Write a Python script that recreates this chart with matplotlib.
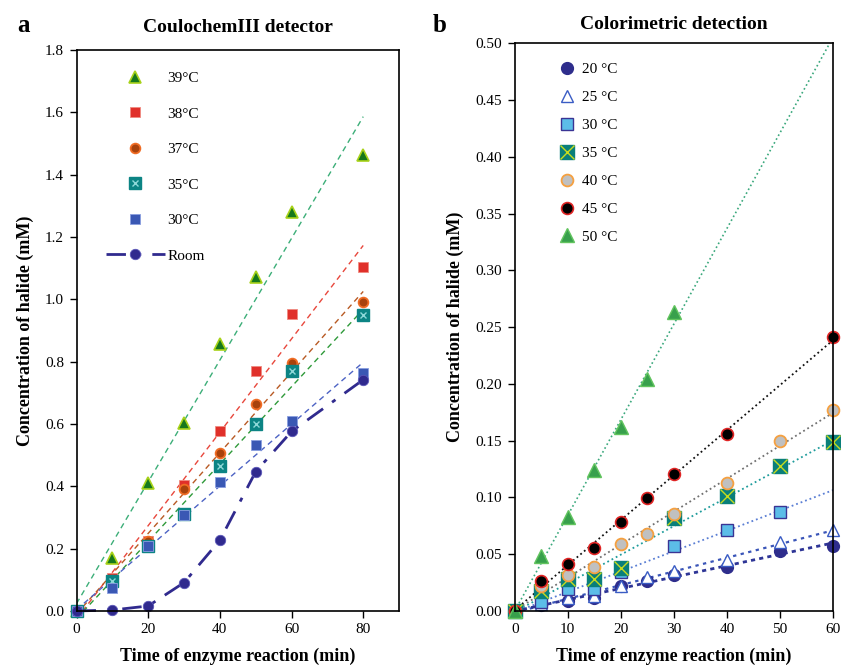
import matplotlib
matplotlib.use("Agg")
import matplotlib.pyplot as plt
from matplotlib.legend_handler import HandlerTuple
import numpy as np

plt.rcParams["font.family"] = ["Liberation Serif", "DejaVu Serif"]

# panel a: CoulochemIII detector
t_a = [0, 10, 20, 30, 40, 50, 60, 80]
a_39 = [0, 0.170, 0.410, 0.603, 0.857, 1.073, 1.279, 1.462]
a_38 = [0, 0.105, 0.225, 0.404, 0.578, 0.771, 0.953, 1.103]
a_37 = [0, 0.100, 0.225, 0.392, 0.508, 0.663, 0.795, 0.991]
a_35 = [0, 0.096, 0.210, 0.310, 0.466, 0.599, 0.769, 0.949]
a_30 = [0, 0.073, 0.210, 0.308, 0.415, 0.531, 0.611, 0.763]
a_room = [0, 0.003, 0.016, 0.091, 0.227, 0.447, 0.576, 0.742]
a_labels = ["39\u00b0C", "38\u00b0C", "37\u00b0C", "35\u00b0C", "30\u00b0C", "Room"]

# panel b: colorimetric detection
t_20 = [0, 5, 10, 15, 20, 25, 30, 40, 50, 60]
b_20 = [0, 0.005, 0.009, 0.0115, 0.022, 0.026, 0.0315, 0.039, 0.053, 0.057]
t_25 = [0, 5, 10, 15, 20, 25, 30, 40, 50, 60]
b_25 = [0, 0.006, 0.011, 0.013, 0.022, 0.030, 0.035, 0.045, 0.061, 0.071]
t_30 = [0, 5, 10, 15, 20, 30, 40, 50]
b_30 = [0, 0.008, 0.019, 0.0197, 0.034, 0.057, 0.071, 0.0873]
t_35 = [0, 5, 10, 15, 20, 30, 40, 50, 60]
b_35 = [0, 0.0176, 0.0286, 0.0286, 0.038, 0.082, 0.101, 0.128, 0.1485]
t_40 = [0, 5, 10, 15, 20, 25, 30, 40, 50, 60]
b_40 = [0, 0.022, 0.032, 0.039, 0.0586, 0.068, 0.0853, 0.113, 0.1496, 0.177]
t_45 = [0, 5, 10, 15, 20, 25, 30, 40, 60]
b_45 = [0, 0.0265, 0.041, 0.0556, 0.078, 0.0997, 0.121, 0.1555, 0.2416]
t_50 = [0, 5, 10, 15, 20, 25, 30]
b_50 = [0, 0.0485, 0.083, 0.124, 0.162, 0.204, 0.263]
b_labels = ["20 \u00b0C", "25 \u00b0C", "30 \u00b0C", "35 \u00b0C", "40 \u00b0C", "45 \u00b0C", "50 \u00b0C"]

fig = plt.figure(figsize=(8.41, 6.67), dpi=100)
ax1 = fig.add_axes([0.091, 0.084, 0.3835, 0.841])
ax2 = fig.add_axes([0.612, 0.084, 0.3785, 0.851])


def fit_line(ax, t, v, x0, x1, **kw):
    k, b = np.polyfit(t, v, 1)
    xs = np.array([x0, x1])
    ax.plot(xs, k * xs + b, **kw)


# ---- panel a ----
dash = (0, (4, 3))
fit_line(ax1, t_a, a_39, 0, 80, color="#3cae78", lw=1, ls=dash)
fit_line(ax1, t_a, a_38, 0, 80, color="#e8473c", lw=1, ls=dash)
fit_line(ax1, t_a, a_37, 0, 80, color="#b85a24", lw=1, ls=dash)
fit_line(ax1, t_a, a_35, 0, 80, color="#2f9a3a", lw=1, ls=dash)
fit_line(ax1, t_a, a_30, 0, 80, color="#4d63c4", lw=1, ls=dash)

h39, = ax1.plot(t_a, a_39, ls="none", marker="^", ms=8, mfc="#16781c", mec="#a8d21a", mew=1.2, clip_on=False)
h38, = ax1.plot(t_a, a_38, ls="none", marker="s", ms=7, mfc="#e0302a", mec="#f08a80", mew=0.6, clip_on=False)
h37, = ax1.plot(t_a, a_37, ls="none", marker="o", ms=7, mfc="#a8420c", mec="#f06c24", mew=1.3, clip_on=False)
h35, = ax1.plot(t_a, a_35, ls="none", marker="s", ms=8, mfc="#0c8484", mec="#0c8484", clip_on=False)
h35x, = ax1.plot(t_a, a_35, ls="none", marker="x", ms=5, mec="#8ed8d8", mew=1, clip_on=False)
h30, = ax1.plot(t_a, a_30, ls="none", marker="s", ms=7.5, mfc="#3a58b4", mec="#8a9ee0", mew=0.6, clip_on=False)
hroom, = ax1.plot(t_a, a_room, color="#302a8e", lw=2, ls=(0, (7, 4, 1.5, 4)), marker="o", ms=7.5,
                  mfc="#302a8e", mec="#5a56b8", mew=0.6, clip_on=False)

ax1.legend([h39, h38, h37, (h35, h35x), h30, hroom], a_labels,
           handler_map={tuple: HandlerTuple(ndivide=1, pad=0)},
           loc="upper left", bbox_to_anchor=(0.09, 0.962), borderaxespad=0, borderpad=0,
           frameon=False, fontsize=11, handlelength=3.9, handletextpad=0.15, labelspacing=1.43)

ax1.set_xlim(0, 90)
ax1.set_ylim(0, 1.8)
ax1.set_xticks([0, 20, 40, 60, 80])
ax1.set_yticks(np.arange(0, 1.81, 0.2))
ax1.set_yticklabels([f"{v:.1f}" for v in np.arange(0, 1.81, 0.2)])
ax1.set_title("CoulochemIII detector", fontsize=14, fontweight="bold", pad=13)
ax1.set_xlabel("Time of enzyme reaction (min)", fontsize=13, fontweight="bold", labelpad=8)
ax1.set_ylabel("Concentration of halide (mM)", fontsize=13, fontweight="bold", labelpad=8)
fig.text(0.021, 0.962, "a", fontsize=18, fontweight="bold", va="center")

# ---- panel b ----
fit_line(ax2, t_50, b_50, 0, 60, color="#3aa87c", lw=1.2, ls=":")
fit_line(ax2, t_45, b_45, 0, 60, color="#111111", lw=1.3, ls=":")
fit_line(ax2, t_40, b_40, 0, 60, color="#707070", lw=1.3, ls=":")
fit_line(ax2, t_35, b_35, 0, 60, color="#1e9c9c", lw=1.3, ls=":")
fit_line(ax2, t_30, b_30, 0, 60, color="#5a7ed4", lw=1.3, ls=":")
fit_line(ax2, t_25, b_25, 0, 60, color="#3a55b8", lw=1.6, ls=(0, (1.5, 2)))
fit_line(ax2, t_20, b_20, 0, 60, color="#2e3596", lw=2, ls=(0, (1.5, 1.5)))

g20, = ax2.plot(t_20, b_20, ls="none", marker="o", ms=8.5, mfc="#2e2d8c", mec="#2e2d8c", clip_on=False)
g25, = ax2.plot(t_25, b_25, ls="none", marker="^", ms=9, mfc="white", mec="#3a5cc4", mew=1, clip_on=False)
g30, = ax2.plot(t_30, b_30, ls="none", marker="s", ms=8, mfc="#5cbde8", mec="#3a3494", mew=1, clip_on=False)
g35, = ax2.plot(t_35, b_35, ls="none", marker="s", ms=10, mfc="#0a7f7a", mec="#0a7f7a", clip_on=False)
g35x, = ax2.plot(t_35, b_35, ls="none", marker="x", ms=10, mec="#c6dc1e", mew=1, clip_on=False)
g40, = ax2.plot(t_40, b_40, ls="none", marker="o", ms=8.5, mfc="#c0c0c0", mec="#f5a040", mew=1.3, clip_on=False)
g45, = ax2.plot(t_45, b_45, ls="none", marker="o", ms=8.5, mfc="black", mec="#e02424", mew=1.2, clip_on=False)
g50, = ax2.plot(t_50, b_50, ls="none", marker="^", ms=9.5, mfc="#38a04c", mec="#62c45e", mew=1, clip_on=False)

ax2.legend([g20, g25, g30, (g35, g35x), g40, g45, g50], b_labels,
           handler_map={tuple: HandlerTuple(ndivide=1, pad=0)},
           loc="upper left", bbox_to_anchor=(0.14, 0.966), borderaxespad=0, borderpad=0,
           frameon=False, fontsize=11, handlelength=1.0, handletextpad=0.5, labelspacing=0.93)

ax2.set_xlim(0, 60)
ax2.set_ylim(0, 0.5)
ax2.set_xticks(np.arange(0, 61, 10))
ax2.set_yticks(np.arange(0, 0.501, 0.05))
ax2.set_yticklabels([f"{v:.2f}" for v in np.arange(0, 0.501, 0.05)])
ax2.set_title("Colorimetric detection", fontsize=14, fontweight="bold", pad=10)
ax2.set_xlabel("Time of enzyme reaction (min)", fontsize=13, fontweight="bold", labelpad=8)
ax2.set_ylabel("Concentration of halide (mM)", fontsize=13, fontweight="bold", labelpad=8)
fig.text(0.515, 0.962, "b", fontsize=18, fontweight="bold", va="center")

for ax in (ax1, ax2):
    for s in ax.spines.values():
        s.set_linewidth(1.2)
    ax.tick_params(direction="out", length=5, width=1, labelsize=11, pad=4)

fig.savefig("out.png", dpi=100)
